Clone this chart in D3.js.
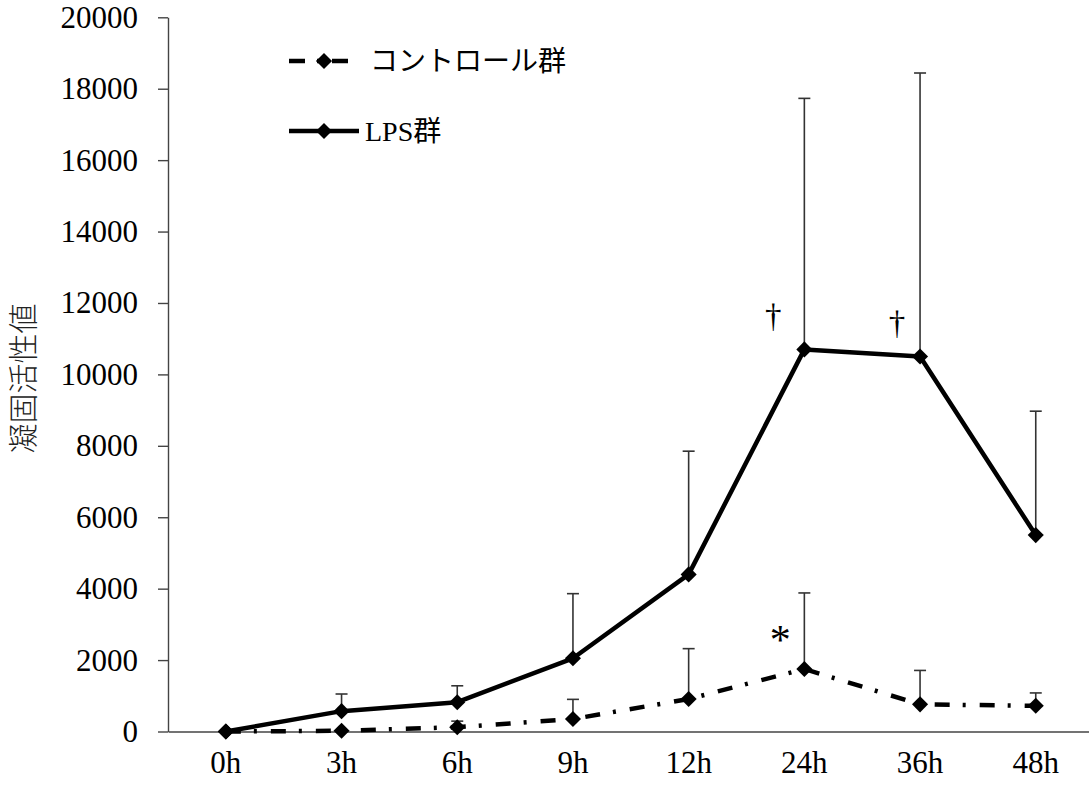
<!DOCTYPE html>
<html>
<head>
<meta charset="utf-8">
<script src="https://cdn.jsdelivr.net/npm/d3@7"></script>
<style>
  html, body { margin: 0; padding: 0; background: #fff; }
  svg { display: block; }
</style>
</head>
<body>
<script>
// Time points and group means / upper error (SD) of clotting activity
const categories = ["0h", "3h", "6h", "9h", "12h", "24h", "36h", "48h"];
const lpsMean = [0, 570, 820, 2050, 4400, 10700, 10500, 5500];
const lpsErr = [0, 480, 460, 1810, 3450, 7030, 7940, 3470];
const controlMean = [0, 20, 120, 350, 910, 1750, 760, 720];
const controlErr = [0, 0, 170, 550, 1410, 2130, 950, 360];
const yTicks = [0, 2000, 4000, 6000, 8000, 10000, 12000, 14000, 16000, 18000, 20000];
const legendLabels = ["コントロール群", "LPS群"];
const yTitle = "凝固活性値";

const W = 1089, H = 789;
const plot = { left: 168, top: 17.3, bottom: 731.5, band: 115.7 };

const svg = d3.select("body").append("svg")
  .attr("width", W).attr("height", H);

const x = d3.scaleBand()
  .domain(categories)
  .range([plot.left, plot.left + plot.band * categories.length])
  .padding(0);
const cx = c => x(c) + x.bandwidth() / 2;

const y = d3.scaleLinear().domain([0, 20000]).range([plot.bottom, plot.top]);

const serif = "'Liberation Serif', 'Times New Roman', serif";
const cjk = "'Liberation Serif', 'Noto Sans CJK JP', sans-serif";

// Y axis
const yAxis = svg.append("g")
  .attr("transform", `translate(${plot.left},0)`)
  .call(d3.axisLeft(y).tickValues(yTicks).tickSize(10).tickSizeOuter(0).tickPadding(20)
    .tickFormat(d3.format("d")));
yAxis.select(".domain").attr("stroke", "#444").attr("stroke-width", 1.4);
yAxis.selectAll(".tick line").attr("stroke", "#444").attr("stroke-width", 1.4);
yAxis.selectAll(".tick text")
  .attr("font-family", serif).attr("font-size", 31).attr("fill", "#000");

// X axis
const xAxis = svg.append("g")
  .attr("transform", `translate(0,${plot.bottom})`)
  .call(d3.axisBottom(x).tickSize(0).tickSizeOuter(0).tickPadding(19));
xAxis.select(".domain").attr("stroke", "#444").attr("stroke-width", 1.4);
xAxis.selectAll(".tick text")
  .attr("font-family", serif).attr("font-size", 31).attr("fill", "#000");

// Y axis title
svg.append("text")
  .attr("transform", `translate(34,${(plot.top + plot.bottom) / 2 + 4}) rotate(-90)`)
  .attr("text-anchor", "middle")
  .attr("font-family", "'Noto Sans CJK JP', sans-serif")
  .attr("font-weight", 300)
  .attr("font-size", 30)
  .attr("fill", "#222")
  .text(yTitle);

const series = [
  { name: legendLabels[0], mean: controlMean, err: controlErr, dash: "15,13,3,14" },
  { name: legendLabels[1], mean: lpsMean, err: lpsErr, dash: null }
];

// Error bars (upper only)
series.forEach(s => {
  const g = svg.append("g");
  categories.forEach((c, i) => {
    if (s.err[i] <= 0) return;
    const x0 = cx(c), y0 = y(s.mean[i]), y1 = y(s.mean[i] + s.err[i]);
    g.append("line").attr("x1", x0).attr("x2", x0).attr("y1", y0).attr("y2", y1)
      .attr("stroke", "#333").attr("stroke-width", 1.6);
    g.append("line").attr("x1", x0 - 6).attr("x2", x0 + 6).attr("y1", y1).attr("y2", y1)
      .attr("stroke", "#333").attr("stroke-width", 1.6);
  });
});

const line = d3.line().x((d, i) => cx(categories[i])).y(d => y(d));
const diamond = d3.symbol().type(d3.symbolDiamond2).size(165);

series.forEach(s => {
  svg.append("path")
    .attr("d", line(s.mean))
    .attr("fill", "none")
    .attr("stroke", "#000")
    .attr("stroke-width", 4.5)
    .attr("stroke-linejoin", "round")
    .attr("stroke-dasharray", s.dash);
  svg.append("g").selectAll("path")
    .data(s.mean)
    .join("path")
    .attr("d", diamond)
    .attr("transform", (d, i) => `translate(${cx(categories[i])},${y(d)})`)
    .attr("fill", "#000");
});

// Significance marks
const marks = [
  { cat: "24h", value: lpsMean[5], text: "†", dx: -31, dy: -22, size: 33 },
  { cat: "36h", value: lpsMean[6], text: "†", dx: -23, dy: -23, size: 33 },
  { cat: "24h", value: controlMean[5], text: "*", dx: -24, dy: -15, size: 42 }
];
marks.forEach(m => {
  svg.append("text")
    .attr("x", cx(m.cat) + m.dx)
    .attr("y", y(m.value) + m.dy)
    .attr("text-anchor", "middle")
    .attr("font-family", serif)
    .attr("font-size", m.size)
    .attr("fill", "#000")
    .text(m.text);
});

// Legend
const legend = svg.append("g");
const legendRows = [
  { s: series[0], y: 61, x1: 289, x2: 349, tx: 370 },
  { s: series[1], y: 131, x1: 289, x2: 359, tx: 365 }
];
legendRows.forEach(r => {
  legend.append("line")
    .attr("x1", r.x1).attr("x2", r.x2).attr("y1", r.y).attr("y2", r.y)
    .attr("stroke", "#000").attr("stroke-width", 4.5)
    .attr("stroke-dasharray", r.s.dash ? "16,12,3,12" : null);
  legend.append("path")
    .attr("d", diamond)
    .attr("transform", `translate(324,${r.y})`)
    .attr("fill", "#000");
  legend.append("text")
    .attr("x", r.tx).attr("y", r.y + 10)
    .attr("font-family", cjk)
    .attr("font-size", 28)
    .attr("fill", "#000")
    .text(r.s.name);
});
</script>
</body>
</html>
